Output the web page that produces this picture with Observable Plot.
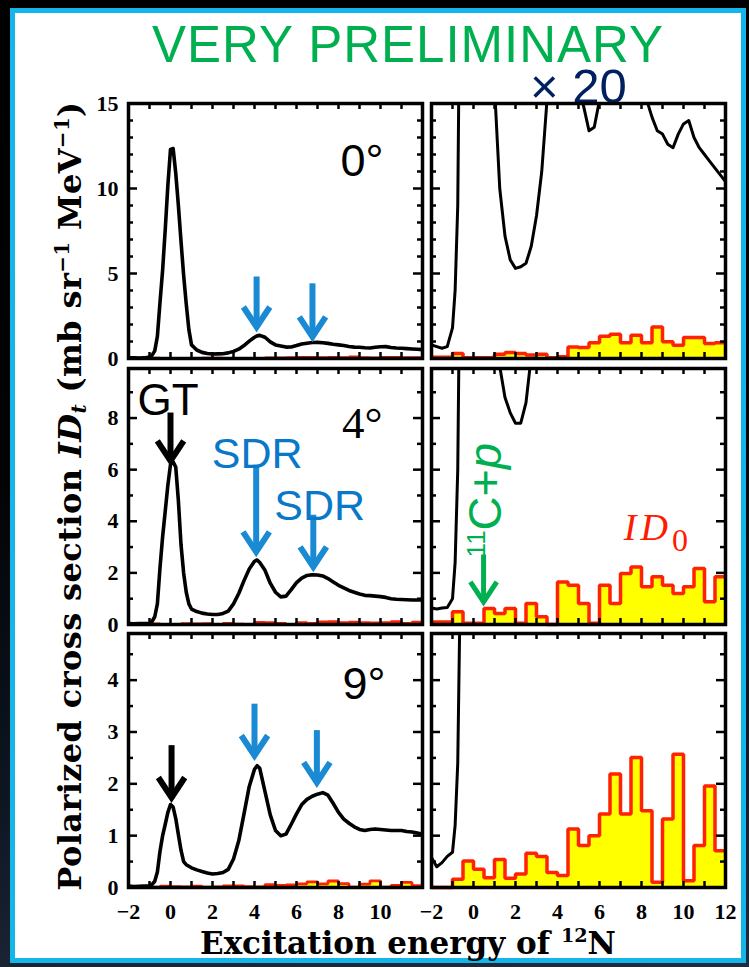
<!DOCTYPE html>
<html>
<head>
<meta charset="utf-8">
<script src="https://cdn.jsdelivr.net/npm/d3@7"></script>
<script src="https://cdn.jsdelivr.net/npm/@observablehq/plot@0.6"></script>
<style>
  html, body { margin:0; padding:0; }
  body { width:749px; height:967px; overflow:hidden;
    background: linear-gradient(172deg, #000 0%, #020305 45%, #0e1622 75%, #202c3c 100%); }
  #stage { position:relative; width:749px; height:967px; }
  #card { position:absolute; left:10px; top:8px; width:726px; height:945px; background:#fff; border:5px solid #14b5e8; }
  .lbl { position:absolute; white-space:nowrap; }
  #title { left:152px; top:24.5px; height:40px; font: 51px/40px "Liberation Sans", Arial, sans-serif; letter-spacing:1px; color:#00b050; }
  #times20 { left:530px; top:68px; height:36px; font: 49px/36px "Liberation Sans", Arial, sans-serif; color:#002060; }
  #xlabel { left:200px; top:928px; font: bold 31px/31px "DejaVu Serif", serif; color:#000; }
  #xlabel sup { font-size:0.62em; vertical-align:0.6em; line-height:0; }
  #ylabel { left:-330px; top:476px; width:800px; height:40px; text-align:center; letter-spacing:0.4px;
    font: bold 32px/40px "DejaVu Serif", serif; color:#000; transform: rotate(-90deg); transform-origin: 50% 50%; }
  #ylabel sup { font-size:0.62em; vertical-align:0.6em; line-height:0; }
  #ylabel sub { font-size:0.62em; vertical-align:-0.25em; line-height:0; }
  #stage svg { position:absolute; }
</style>
</head>
<body>
<div id="stage">
  <div id="card"></div>
  <div id="title" class="lbl">VERY PRELIMINARY</div>
  <div id="times20" class="lbl">× 20</div>
  <div id="ylabel" class="lbl">Polarized cross section <i>ID</i><sub><i>t</i></sub> (mb sr<sup>−1</sup> MeV<sup>−1</sup>)</div>
  <div id="xlabel" class="lbl">Excitation energy of <sup>12</sup>N</div>
</div>
<script>
// ---------------- data ----------------
const energy = [-2, -1.75, -1.5, -1.25, -1, -0.875, -0.75, -0.625, -0.5, -0.375, -0.25, -0.125,
  0, 0.125, 0.25, 0.375, 0.5, 0.625, 0.75, 0.875, 1, 1.25, 1.5, 1.75, 2, 2.25, 2.5, 2.75,
  3, 3.25, 3.5, 3.75, 4, 4.125, 4.25, 4.5, 4.75, 5, 5.25, 5.5, 5.75, 6, 6.25, 6.5, 6.75,
  7, 7.25, 7.5, 7.75, 8, 8.25, 8.5, 8.75, 9, 9.25, 9.5, 9.75, 10, 10.25, 10.5, 10.75,
  11, 11.25, 11.5, 11.75, 12];

// polarized cross section ID_t (mb/sr/MeV)
const idt0deg = [0.04, 0.035, 0.03, 0.035, 0.09, 0.2, 0.45, 1.3, 3.3, 5.2, 7.6, 10.2,
  12.3, 12.35, 10.9, 9.0, 6.9, 4.9, 3.2, 1.7, 0.8, 0.5, 0.36, 0.29, 0.265, 0.27, 0.28, 0.33,
  0.42, 0.55, 0.76, 1.02, 1.25, 1.33, 1.36, 1.25, 0.98, 0.8, 0.74, 0.67, 0.68, 0.76, 0.85, 0.9, 0.94,
  0.95, 0.93, 0.89, 0.84, 0.8, 0.76, 0.71, 0.67, 0.66, 0.63, 0.62, 0.66, 0.69, 0.7, 0.65, 0.62,
  0.6, 0.58, 0.56, 0.54, 0.52];
const idt4deg = [0.032, 0.03, 0.032, 0.033, 0.05, 0.12, 0.3, 0.8, 2.2, 3.4, 4.4, 5.4,
  6.2, 6.3, 6.1, 4.8, 3.1, 2.0, 1.25, 0.8, 0.6, 0.5, 0.44, 0.41, 0.39, 0.39, 0.43, 0.52,
  0.8, 1.2, 1.7, 2.15, 2.45, 2.5, 2.4, 2.1, 1.6, 1.25, 1.07, 1.1, 1.35, 1.62, 1.8, 1.9, 1.93,
  1.92, 1.88, 1.78, 1.65, 1.52, 1.42, 1.32, 1.25, 1.18, 1.13, 1.12, 1.1, 1.08, 1.05, 1.0, 0.98,
  0.97, 0.96, 0.95, 0.95, 0.95];
const idt9deg = [0.029, 0.02, 0.024, 0.03, 0.034, 0.06, 0.12, 0.3, 0.7, 1.0, 1.22, 1.45,
  1.6, 1.55, 1.33, 1.02, 0.72, 0.5, 0.44, 0.41, 0.38, 0.34, 0.31, 0.28, 0.26, 0.27, 0.29, 0.35,
  0.55, 0.9, 1.42, 1.95, 2.28, 2.35, 2.3, 1.85, 1.4, 1.1, 1.0, 1.03, 1.22, 1.42, 1.6, 1.7, 1.76,
  1.8, 1.83, 1.78, 1.62, 1.45, 1.32, 1.24, 1.17, 1.12, 1.1, 1.12, 1.13, 1.12, 1.11, 1.1, 1.1,
  1.1, 1.08, 1.07, 1.05, 1.03];

// ID_0 histogram, 0.5 MeV bins, values as shown in the "x 20" panels
const binStart = [-2, -1.5, -1, -0.5, 0, 0.5, 1, 1.5, 2, 2.5, 3, 3.5, 4, 4.5, 5, 5.5,
  6, 6.5, 7, 7.5, 8, 8.5, 9, 9.5, 10, 10.5, 11, 11.5];
const binEnd = 12;
const id0x20_0deg = [0.08, 0.08, 0.29, 0.04, 0.04, 0.04, 0.25, 0.35, 0.3, 0.2, 0.25, 0.04, 0.1, 0.68,
  0.64, 0.92, 1.31, 1.43, 0.92, 1.37, 0.92, 1.86, 0.98, 0.78, 1.23, 1.23, 0.88, 0.92];
const id0x20_4deg = [0.1, 0.1, 0.49, 0.05, 0.05, 0.62, 0.43, 0.62, 0.05, 0.81, 0.3, 0.0, 1.65, 1.52,
  0.81, 0.05, 1.52, 0.81, 1.98, 2.23, 1.46, 1.85, 1.52, 1.2, 1.46, 2.17, 0.88, 1.85];
const id0x20_9deg = [0, 0, 0.16, 0.51, 0.35, 0.19, 0.54, 0.18, 0.26, 0.66, 0.6, 0.29, 0.23, 1.13,
  0.81, 1.0, 1.42, 2.19, 1.42, 2.51, 1.48, 0.1, 1.32, 2.57, 0.13, 0.81, 1.96, 0.71];
const zoomFactor = 20;

// axes / ticks
const angleTitles = ["0°", "4°", "9°"];
const xMinorTicks = [-1, 0, 1, 2, 3, 4, 5, 6, 7, 8, 9, 10, 11];
const xTickLabelsLeft = [-2, 0, 2, 4, 6, 8, 10];
const xTickLabelsRight = [-2, 0, 2, 4, 6, 8, 10, 12];
const yLabels0 = [0, 5, 10, 15], yMajor0 = [5, 10], yMinor0 = [1, 2, 3, 4, 6, 7, 8, 9, 11, 12, 13, 14];
const yLabels4 = [0, 2, 4, 6, 8], yMajor4 = [2, 4, 6, 8], yMinor4 = [1, 3, 5, 7, 9];
const yLabels9 = [0, 1, 2, 3, 4], yMajor9 = [1, 2, 3, 4], yMinor9 = [0.5, 1.5, 2.5, 3.5, 4.5];
const yTop = [15, 9.92, 4.9];

// annotations (data units)
const arrows0deg = [{x: 4.1, y1: 4.5, y2: 1.56, kind: "SDR"}, {x: 6.76, y1: 4.1, y2: 0.98, kind: "SDR"}];
const arrows4deg = [{x: 0.0, y1: 8.0, y2: 6.15, kind: "GT"}, {x: 4.08, y1: 5.98, y2: 2.62, kind: "SDR"},
  {x: 6.8, y1: 4.04, y2: 2.04, kind: "SDR"}];
const arrows9deg = [{x: 0.05, y1: 2.64, y2: 1.64, kind: "GT"}, {x: 4.0, y1: 3.44, y2: 2.45, kind: "SDR"},
  {x: 6.97, y1: 2.93, y2: 1.93, kind: "SDR"}];
const labels4deg = [{text: "GT", x: -0.12, y: 8.11, kind: "GT"}, {text: "SDR", x: 4.13, y: 6.05, kind: "SDR"},
  {text: "SDR", x: 7.1, y: 4.04, kind: "SDR"}];
const thresholdArrow = [{x: 0.48, y1: 2.5, y2: 0.68}];
const thresholdLabel = [{text: "11C+p", x: 0.6, y: 2.6}];
const id0Label = [{text: "ID0", x: 7.16, y: 3.27}];

// ---------------- styles / layout ----------------
const kindColor = {GT: "#000000", SDR: "#1a8ad4"};
const kindTextColor = {GT: "#000000", SDR: "#0a78c8"};
const green = "#00b050", red = "#ff2200", yellow = "#ffff00";
const cols = [{left: 128, w: 294, isLeft: true}, {left: 431, w: 294, isLeft: false}];
const rowsLayout = [{top: 103, h: 255, dx: -39, dy: 72, font: "Liberation Sans"},
                    {top: 368, h: 256, dx: -40, dy: 69, font: "Liberation Serif"},
                    {top: 633, h: 254, dx: -37, dy: 65, font: "Liberation Sans"}];
const rowsData = [
  {idt: idt0deg, id0: id0x20_0deg, yLabels: yLabels0, yMajor: yMajor0, yMinor: yMinor0, arrows: arrows0deg, labels: []},
  {idt: idt4deg, id0: id0x20_4deg, yLabels: yLabels4, yMajor: yMajor4, yMinor: yMinor4, arrows: arrows4deg, labels: labels4deg},
  {idt: idt9deg, id0: id0x20_9deg, yLabels: yLabels9, yMajor: yMajor9, yMinor: yMinor9, arrows: arrows9deg, labels: []}
];

const chevron = {
  draw(ctx, size) {
    const r = Math.sqrt(size / Math.PI);
    ctx.moveTo(-0.66 * r, -r);
    ctx.lineTo(0, 0);
    ctx.lineTo(0.66 * r, -r);
  }
};
const tickFmt = d => d < 0 ? "\u2212" + (-d) : String(d);

function histSteps(values, scale) {
  const pts = binStart.map((x, i) => ({x, y: values[i] * scale}));
  pts.push({x: binEnd, y: values[values.length - 1] * scale});
  return pts;
}
function arrowMarks(arr, color, sw) {
  return [
    Plot.ruleX(arr, {x: "x", y1: "y1", y2: "y2", stroke: color, strokeWidth: sw, dy: -5}),
    Plot.dot(arr, {x: "x", y: "y2", symbol: chevron, r: 20, stroke: color, strokeWidth: sw, fill: "none", dy: -5})
  ];
}
const NS = "http://www.w3.org/2000/svg";
function tspan(txt, attrs) {
  const s = document.createElementNS(NS, "tspan");
  for (const k in attrs) s.setAttribute(k, attrs[k]);
  s.textContent = txt;
  return s;
}
function richify(svg) {
  svg.querySelectorAll("text").forEach(t => {
    if (t.textContent === "11C+p") {
      t.textContent = "";
      t.append(tspan("11", {"font-size": 26, dy: -16}), tspan("C+", {dy: 16}), tspan("p", {"font-style": "italic"}));
    } else if (t.textContent === "ID0") {
      t.textContent = "";
      t.append(tspan("ID", {"letter-spacing": 4}), tspan("0", {"font-size": 32, "font-style": "normal", dy: 11}));
    }
  });
}

const stage = document.getElementById("stage");
rowsLayout.forEach((R, ri) => {
  const D = rowsData[ri];
  const isBottom = ri === 2;
  cols.forEach(C => {
    const mL = C.isLeft ? 52 : 6, mR = 8, mT = 8, mB = isBottom ? 48 : 8;
    const pw = C.w, ph = R.h;
    const scaleLine = C.isLeft ? 1 : zoomFactor;
    const scaleHist = C.isLeft ? 1 / zoomFactor : 1;
    const steps = histSteps(D.id0, scaleHist);
    const line = energy.map((x, i) => ({x, y: D.idt[i] * scaleLine}));
    const tk = {stroke: "#000", strokeWidth: 2.5};
    const marks = [
      Plot.areaY(steps, {x: "x", y: "y", curve: "step-after", fill: yellow}),
      Plot.lineY(steps, {x: "x", y: "y", curve: "step-after", stroke: red, strokeWidth: C.isLeft ? 2.8 : 3.5, strokeLinejoin: "miter", strokeLinecap: "butt"}),
      Plot.line(line, {x: "x", y: "y", stroke: "#000", strokeWidth: C.isLeft ? 3.6 : 3, clip: true})
    ];
    if (C.isLeft) {
      for (const kind of ["GT", "SDR"]) {
        marks.push(...arrowMarks(D.arrows.filter(a => a.kind === kind), kindColor[kind], 6));
        marks.push(Plot.text(D.labels.filter(a => a.kind === kind), {x: "x", y: "y", text: "text", textAnchor: "middle", lineAnchor: "bottom",
          fill: kindTextColor[kind], fontSize: kind === "GT" ? 44 : 43, fontFamily: "Liberation Sans"}));
      }
      marks.push(Plot.text([angleTitles[ri]], {frameAnchor: "top-right", dx: R.dx, dy: R.dy, textAnchor: "end", lineAnchor: "bottom",
        fontSize: 45, fontFamily: R.font, fill: "#000"}));
    } else if (ri === 1) {
      marks.push(...arrowMarks(thresholdArrow, green, 5));
      marks.push(Plot.text(thresholdLabel, {x: "x", y: "y", text: "text", rotate: -90, textAnchor: "start", lineAnchor: "middle",
        fill: green, fontSize: 47, fontFamily: "Liberation Sans"}));
      marks.push(Plot.text(id0Label, {x: "x", y: "y", text: "text", textAnchor: "start", lineAnchor: "bottom",
        fill: "#ff1a00", fontSize: 38, fontFamily: "Liberation Serif", fontStyle: "italic"}));
    }
    marks.push(
      Plot.ruleX(xMinorTicks, {x: d => d, insetBottom: ph - 6, ...tk}),
      Plot.ruleX(xMinorTicks, {x: d => d, insetTop: ph - 6, ...tk}),
      Plot.ruleY(D.yMajor, {y: d => d, insetRight: pw - 9, ...tk}),
      Plot.ruleY(D.yMajor, {y: d => d, insetLeft: pw - 9, ...tk}),
      Plot.ruleY(D.yMinor, {y: d => d, insetRight: pw - 5, ...tk}),
      Plot.ruleY(D.yMinor, {y: d => d, insetLeft: pw - 5, ...tk}),
      Plot.frame({stroke: "#000", strokeWidth: 3.5})
    );
    const axisFont = {fontFamily: "Liberation Serif", fontWeight: "bold", fontSize: 22, tickFormat: tickFmt};
    if (C.isLeft) marks.push(Plot.axisY(D.yLabels, {anchor: "left", tickSize: 0, tickPadding: 10, label: null, ...axisFont}));
    if (isBottom) marks.push(Plot.axisX(C.isLeft ? xTickLabelsLeft : xTickLabelsRight, {anchor: "bottom", tickSize: 0, tickPadding: 16, label: null, ...axisFont}));
    const svg = Plot.plot({
      width: pw + mL + mR, height: ph + mT + mB,
      marginLeft: mL, marginRight: mR, marginTop: mT, marginBottom: mB,
      x: {domain: [-2, 12], axis: isBottom ? undefined : null},
      y: {domain: [0, yTop[ri]], axis: C.isLeft ? undefined : null},
      style: {background: "transparent", overflow: "visible", color: "#000"},
      marks
    });
    richify(svg);
    svg.style.position = "absolute";
    svg.style.left = (C.left - mL) + "px";
    svg.style.top = (R.top - mT) + "px";
    stage.appendChild(svg);
  });
});
</script>
</body>
</html>
